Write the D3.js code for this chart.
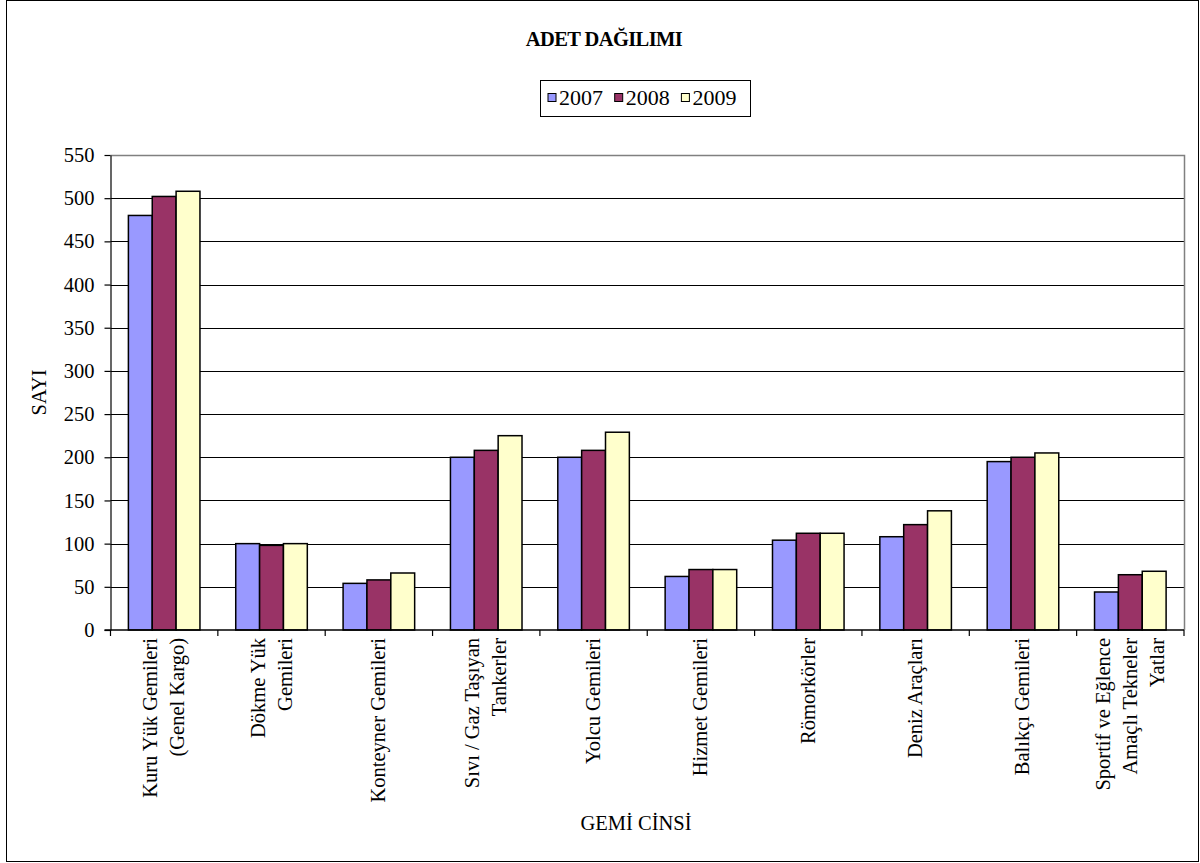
<!DOCTYPE html>
<html>
<head>
<meta charset="utf-8">
<script src="https://cdn.jsdelivr.net/npm/d3@7"></script>
<style>
  body { margin: 0; background: #fff; }
  svg text { font-family: "Liberation Serif", "Times New Roman", "DejaVu Serif", serif !important; fill: #000; }
</style>
</head>
<body>
<div id="chart"></div>
<script>
// categories (each entry = lines of the wrapped label)
const categories = [
    ["Kuru Yük Gemileri", "(Genel Kargo)"],
    ["Dökme Yük", "Gemileri"],
    ["Konteyner Gemileri"],
    ["Sıvı / Gaz Taşıyan", "Tankerler"],
    ["Yolcu Gemileri"],
    ["Hizmet Gemileri"],
    ["Römorkörler"],
    ["Deniz Araçları"],
    ["Balıkçı Gemileri"],
    ["Sportif ve Eğlence", "Amaçlı Tekneler", "Yatlar"]
];
const seriesNames = ["2007", "2008", "2009"];
const seriesColors = ["#9999ff", "#993366", "#ffffcc"];
const values2007 = [480, 100, 54, 200, 200, 62, 104, 108, 195, 44];
const values2008 = [502, 98, 58, 208, 208, 70, 112, 122, 200, 64];
const values2009 = [508, 100, 66, 225, 229, 70, 112, 138, 205, 68];
const yTicks = [0, 50, 100, 150, 200, 250, 300, 350, 400, 450, 500, 550];

const allValues = [values2007, values2008, values2009];

const W = 1200, H = 863;
const plot = {left: 110.5, right: 1184, top: 155, bottom: 630};

const svg = d3.select("#chart").append("svg")
    .attr("width", W)
    .attr("height", H);

// outer frame
svg.append("rect")
    .attr("x", 6.5).attr("y", 0.5)
    .attr("width", 1192).attr("height", 861)
    .attr("fill", "#fff")
    .attr("stroke", "#000")
    .attr("stroke-width", 1);

// scales
const x = d3.scaleBand()
    .domain(d3.range(categories.length))
    .range([plot.left, plot.right]);

const xs = d3.scaleBand()
    .domain(seriesNames)
    .range([0, x.bandwidth()])
    .paddingOuter(0.75);

const y = d3.scaleLinear()
    .domain([0, 550])
    .range([plot.bottom, plot.top]);

// gridlines
svg.append("g")
    .selectAll("line")
    .data(yTicks.filter(d => d > 0 && d < 550))
    .enter().append("line")
    .attr("x1", plot.left).attr("x2", plot.right)
    .attr("y1", d => Math.round(y(d)) + 0.5)
    .attr("y2", d => Math.round(y(d)) + 0.5)
    .attr("stroke", "#000")
    .attr("stroke-width", 1);

// plot area border (top + right)
svg.append("path")
    .attr("d", `M${plot.left},${plot.top + 0.5}H${plot.right + 0.5}V${plot.bottom}`)
    .attr("fill", "none")
    .attr("stroke", "#808080")
    .attr("stroke-width", 1.5);

// bars
const groups = svg.append("g")
    .selectAll("g")
    .data(categories.map((c, i) => i))
    .enter().append("g")
    .attr("transform", i => "translate(" + x(i) + ",0)");

groups.selectAll("rect")
    .data(i => seriesNames.map((s, k) => ({s: s, k: k, v: allValues[k][i]})))
    .enter().append("rect")
    .attr("x", d => xs(d.s))
    .attr("y", d => y(d.v))
    .attr("width", xs.bandwidth())
    .attr("height", d => y(0) - y(d.v))
    .attr("fill", d => seriesColors[d.k])
    .attr("stroke", "#000")
    .attr("stroke-width", 1.5);

// y axis
const yAxis = d3.axisLeft(y)
    .tickValues(yTicks)
    .tickSize(6)
    .tickPadding(10)
    .tickSizeOuter(0);

svg.append("g")
    .attr("class", "y-axis")
    .attr("transform", "translate(" + plot.left + ",0)")
    .call(yAxis)
    .attr("font-family", null)
    .call(g => g.selectAll("text")
        .attr("font-size", 20.5))
    .call(g => g.selectAll("line, path").attr("stroke", "#000").attr("stroke-width", 1.2));

// x axis line + ticks at band boundaries
const xAxisG = svg.append("g").attr("class", "x-axis");
xAxisG.append("line")
    .attr("x1", plot.left - 6).attr("x2", plot.right)
    .attr("y1", plot.bottom).attr("y2", plot.bottom)
    .attr("stroke", "#000").attr("stroke-width", 1.5);
xAxisG.selectAll(".tick")
    .data(d3.range(categories.length + 1))
    .enter().append("line")
    .attr("x1", i => i < categories.length ? x(i) : plot.right)
    .attr("x2", i => i < categories.length ? x(i) : plot.right)
    .attr("y1", plot.bottom).attr("y2", plot.bottom + 6)
    .attr("stroke", "#000").attr("stroke-width", 1.2);

// rotated category labels
const lineH = 27;
const labels = svg.append("g")
    .selectAll("g")
    .data(categories.map((c, i) => ({lines: c, i: i})))
    .enter().append("g")
    .attr("transform", d => "translate(" + (x(d.i) + x.bandwidth() / 2) + "," + (plot.bottom + 8) + ") rotate(-90)");

labels.selectAll("text")
    .data(d => d.lines.map((t, j) => ({t: t, off: (j - (d.lines.length - 1) / 2) * lineH + 6.5})))
    .enter().append("text")
    .attr("x", 0)
    .attr("y", d => d.off)
    .attr("text-anchor", "end")
    .attr("font-size", 20.5)
    .text(d => d.t);

// axis titles
svg.append("text")
    .attr("transform", "translate(46," + ((plot.top + plot.bottom) / 2) + ") rotate(-90)")
    .attr("text-anchor", "middle")
    .attr("font-size", 20.5)
    .text("SAYI");

svg.append("text")
    .attr("x", 636).attr("y", 830)
    .attr("text-anchor", "middle")
    .attr("font-size", 20.5)
    .text("GEMİ CİNSİ");

// title
svg.append("text")
    .attr("x", 604).attr("y", 46)
    .attr("text-anchor", "middle")
    .attr("font-size", 20.5)
    .attr("font-weight", "bold")
    .attr("letter-spacing", -0.6)
    .text("ADET DAĞILIMI");

// legend
const legend = svg.append("g");
legend.append("rect")
    .attr("x", 540.5).attr("y", 80.5)
    .attr("width", 210).attr("height", 36)
    .attr("fill", "#fff")
    .attr("stroke", "#000")
    .attr("stroke-width", 1);

const items = legend.selectAll(".item")
    .data(seriesNames)
    .enter().append("g")
    .attr("transform", (d, k) => "translate(" + (548 + k * 66.7) + ",0)");

items.append("rect")
    .attr("x", 0).attr("y", 93.5)
    .attr("width", 8).attr("height", 8)
    .attr("fill", (d, k) => seriesColors[k])
    .attr("stroke", "#000")
    .attr("stroke-width", 1);

items.append("text")
    .attr("x", 11).attr("y", 104.5)
    .attr("font-size", 22)
    .text(d => d);
</script>
</body>
</html>
